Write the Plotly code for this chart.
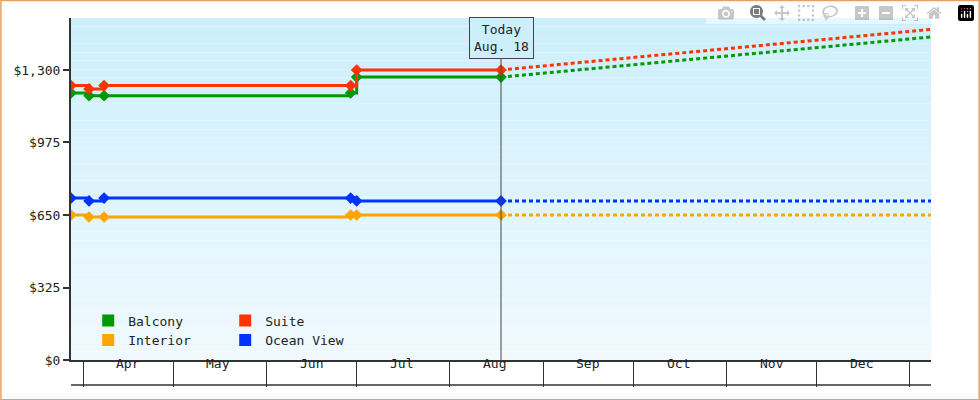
import plotly.graph_objects as go

# observed prices (step changes), then projection to year end
dates = ["2024-03-28", "2024-04-03", "2024-04-08", "2024-06-29", "2024-07-01", "2024-08-18"]
balcony = [1197, 1185, 1185, 1197, 1268, 1268]
suite = [1230, 1215, 1230, 1230, 1300, 1300]
ocean_view = [726, 713, 726, 726, 713, 713]
interior = [650, 641, 641, 650, 650, 650]

proj_dates = ["2024-08-18", "2025-01-08"]
balcony_proj = [1268, 1448]
suite_proj = [1300, 1482]
ocean_proj = [713, 713]
interior_proj = [650, 650]

month_starts = ["2024-04-01", "2024-05-01", "2024-06-01", "2024-07-01", "2024-08-01",
                "2024-09-01", "2024-10-01", "2024-11-01", "2024-12-01", "2025-01-01"]
month_mids = ["2024-04-16", "2024-05-16", "2024-06-16", "2024-07-16", "2024-08-16",
              "2024-09-16", "2024-10-16", "2024-11-16", "2024-12-16"]
month_names = ["Apr", "May", "Jun", "Jul", "Aug", "Sep", "Oct", "Nov", "Dec"]
today = "2024-08-18"

series = [
    ("Balcony", balcony, balcony_proj, "#009900", "legend"),
    ("Suite", suite, suite_proj, "#ff3300", "legend"),
    ("Interior", interior, interior_proj, "#ffa500", "legend2"),
    ("Ocean View", ocean_view, ocean_proj, "#0033ff", "legend2"),
]

fig = go.Figure()
for name, vals, proj, color, leg in series:
    fig.add_trace(go.Scatter(x=proj_dates, y=proj, mode="lines",
                             line=dict(color=color, width=3, dash="4px,3px"),
                             showlegend=False))
    fig.add_trace(go.Scatter(x=dates, y=vals, mode="lines+markers",
                             line=dict(color=color, width=3, shape="hv"),
                             marker=dict(symbol="diamond", size=9, color=color),
                             showlegend=False))
    fig.add_trace(go.Scatter(x=[None], y=[None], mode="markers", name=name,
                             marker=dict(symbol="square", size=12, color=color),
                             legend=leg))

# vertical gradient background
shapes = []
n = 40
top, bot = (205, 239, 252), (240, 250, 254)
for i in range(n):
    t = i / (n - 1)
    c = tuple(int(top[k] + (bot[k] - top[k]) * t) for k in range(3))
    shapes.append(dict(type="rect", xref="paper", yref="paper", x0=0, x1=1,
                       y0=1 - (i + 1) / n, y1=1 - i / n, layer="below",
                       fillcolor="rgb(%d,%d,%d)" % c, line=dict(width=0)))
shapes.append(dict(type="line", xref="x", yref="paper", x0=today, x1=today, y0=0, y1=1,
                   line=dict(color="#444", width=1)))
shapes.append(dict(type="line", xref="paper", yref="paper", x0=0, x1=1, y0=-0.073, y1=-0.073,
                   line=dict(color="#333", width=1.5)))
shapes.append(dict(type="rect", xref="paper", yref="paper", x0=-0.0815, x1=1.056,
                   y0=-0.116, y1=1.051, line=dict(color="#e8a060", width=1.5)))

annotations = [dict(x=m, y=-0.038, xref="x", yref="paper", text=t, showarrow=False,
                    font=dict(size=13)) for m, t in zip(month_mids, month_names)]
annotations.append(dict(x=today, y=1445, xref="x", yref="y", text="Today<br>Aug. 18",
                        showarrow=False, bgcolor="#cdeffc", bordercolor="#444",
                        borderwidth=1, borderpad=4, font=dict(size=13)))

fig.update_layout(
    width=980, height=400, margin=dict(l=71, r=49, t=18, b=40),
    paper_bgcolor="white", plot_bgcolor="rgba(0,0,0,0)",
    font=dict(family="DejaVu Sans Mono", size=13, color="#222"),
    shapes=shapes, annotations=annotations,
    xaxis=dict(range=["2024-03-28", "2025-01-08"], tickvals=month_starts, showticklabels=False,
               ticks="outside", ticklen=25, tickcolor="#333", showgrid=False,
               showline=True, linecolor="#333", linewidth=1.5, zeroline=False),
    yaxis=dict(range=[0, 1533], tickvals=[0, 325, 650, 975, 1300],
               ticktext=["$0", "$325", "$650", "$975", "$1,300"],
               ticks="outside", ticklen=6, tickwidth=2, tickcolor="#333", showgrid=False,
               showline=True, linecolor="#333", linewidth=2, zeroline=False),
    legend=dict(orientation="h", x=0.02, y=0.115, xanchor="left", yanchor="middle",
                bgcolor="rgba(0,0,0,0)", entrywidth=92, font=dict(size=13),
                itemsizing="constant", itemwidth=30),
    legend2=dict(orientation="h", x=0.02, y=0.058, xanchor="left", yanchor="middle",
                 bgcolor="rgba(0,0,0,0)", entrywidth=92, font=dict(size=13),
                 itemsizing="constant", itemwidth=30),
)

fig.write_html("out.html")

# drop the default body margin so the chart sits flush with the window
with open("out.html") as f:
    html = f.read()
html = html.replace("<body>", '<body style="margin:0">', 1)
with open("out.html", "w") as f:
    f.write(html)
